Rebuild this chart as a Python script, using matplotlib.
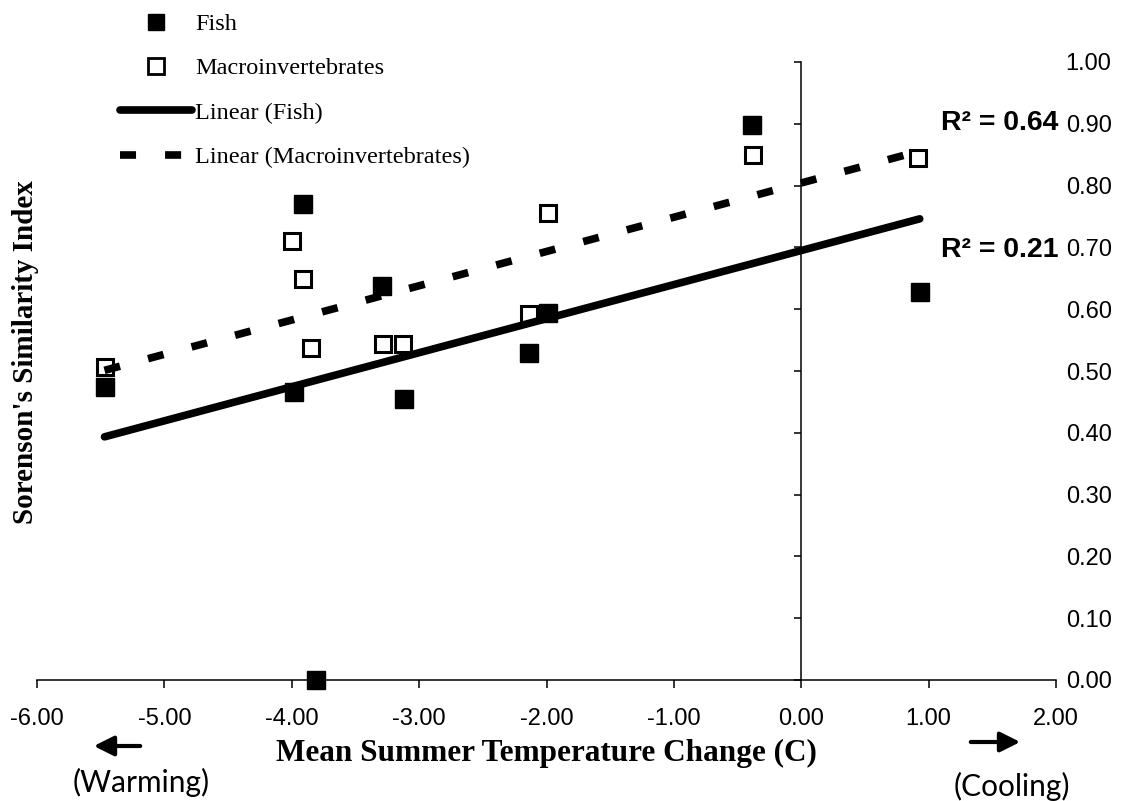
import numpy as np
import matplotlib.pyplot as plt
from matplotlib.lines import Line2D

# Mean summer temperature change (C) against Sorenson's similarity index
fish_temp = [-5.47, -3.91, -3.98, -3.29, -3.12, -3.81, -2.14, -1.99, -0.39, 0.93]
fish_index = [0.474, 0.770, 0.466, 0.638, 0.455, 0.0, 0.529, 0.594, 0.898, 0.628]

macro_temp = [-5.47, -4.00, -3.91, -3.85, -3.28, -3.13, -2.14, -1.99, -0.38, 0.92]
macro_index = [0.506, 0.710, 0.649, 0.537, 0.544, 0.544, 0.592, 0.756, 0.850, 0.845]

fish_r2 = 0.21
macro_r2 = 0.64

x_ticks = np.arange(-6, 2.01, 1.0)
y_ticks = np.arange(0, 1.001, 0.1)

serif = 'Liberation Serif'
sans = 'Liberation Sans'

fig = plt.figure(figsize=(11.37, 8.01), dpi=100)
ax = fig.add_axes([37 / 1137, 121 / 801, 1019 / 1137, 618 / 801])
ax.set_xlim(-6, 2)
ax.set_ylim(0, 1)

# y axis sits on x = 0, its labels go out past the right end
ax.spines['top'].set_visible(False)
ax.spines['right'].set_visible(False)
ax.spines['left'].set_position(('data', 0))
for s in ('left', 'bottom'):
    ax.spines[s].set_linewidth(1.1)

ax.set_xticks(x_ticks)
ax.set_xticklabels([f'{t:.2f}' for t in x_ticks], family=sans, fontsize=17)
ax.set_yticks(y_ticks)
ax.set_yticklabels([f'{t:.2f}' for t in y_ticks], family=sans, fontsize=17)
ax.tick_params(axis='x', direction='out', length=6, width=1.1, pad=14)
ax.tick_params(axis='y', direction='out', length=5, width=1.1, left=True,
               labelleft=False, right=False, labelright=True, pad=2)

# data points
ax.plot(fish_temp, fish_index, linestyle='none', marker='s', ms=12.5,
        mfc='black', mec='black', mew=1, clip_on=False, zorder=3)
ax.plot(macro_temp, macro_index, linestyle='none', marker='s', ms=11.5,
        mfc='white', mec='black', mew=2.2, clip_on=False, zorder=3)

# least squares trend lines over the range of each series
dash = (0, (2.1, 3.8))
fit_styles = [
    (fish_temp, fish_index, dict(linestyle='-', solid_capstyle='round')),
    (macro_temp, macro_index, dict(linestyle=dash, dash_capstyle='butt')),
]
for temps, vals, style in fit_styles:
    slope, icpt = np.polyfit(temps, vals, 1)
    xs = np.array([min(temps), max(temps)])
    ax.plot(xs, slope * xs + icpt, color='black', lw=5.5, zorder=4, **style)

ax.text(2.02, 0.89, f'R² = {macro_r2:.2f}', ha='right', va='baseline',
        family=sans, fontweight='bold', fontsize=20.5, clip_on=False)
ax.text(2.02, 0.684, f'R² = {fish_r2:.2f}', ha='right', va='baseline',
        family=sans, fontweight='bold', fontsize=20.5, clip_on=False)

ax.set_xlabel('Mean Summer Temperature Change (C)', family=serif,
              fontweight='bold', fontsize=22.5)
ax.xaxis.set_label_coords(0.5, -0.096)
ax.xaxis.label.set_va('top')
ax.set_ylabel("Sorenson's Similarity Index", family=serif,
              fontweight='bold', fontsize=21)
ax.yaxis.set_label_coords(-0.011, 0.531)
ax.yaxis.label.set_va('center')

handles = [
    Line2D([], [], linestyle='none', marker='s', ms=12, mfc='black', mec='black'),
    Line2D([], [], linestyle='none', marker='s', ms=11, mfc='white', mec='black', mew=2),
    Line2D([], [], color='black', lw=5.5, solid_capstyle='round'),
    Line2D([], [], color='black', lw=5.5, linestyle=dash),
]
labels = ['Fish', 'Macroinvertebrates', 'Linear (Fish)', 'Linear (Macroinvertebrates)']
ax.legend(handles, labels, loc='upper left', bbox_to_anchor=(120 / 1137, 1 - 13 / 801),
          bbox_transform=fig.transFigure, frameon=False,
          prop={'family': serif, 'size': 17.5}, handlelength=2.95,
          handletextpad=0.15, labelspacing=0.92, borderpad=0, borderaxespad=0)

# direction hints under the x axis
arrow = dict(arrowstyle='-|>', lw=3, color='black', mutation_scale=30)
ax.annotate('', xy=(91, 801 - 746), xytext=(143, 801 - 746),
            xycoords='figure pixels', arrowprops=arrow)
ax.annotate('', xy=(1023, 801 - 742), xytext=(968, 801 - 742),
            xycoords='figure pixels', arrowprops=arrow)
fig.text(141 / 1137, 1 - 782 / 801, '(Warming)', family='Lato', fontsize=21.5,
         ha='center', va='center')
fig.text(1012 / 1137, 1 - 786 / 801, '(Cooling)', family='Lato', fontsize=21.5,
         ha='center', va='center')

fig.savefig('out.png', dpi=100)
